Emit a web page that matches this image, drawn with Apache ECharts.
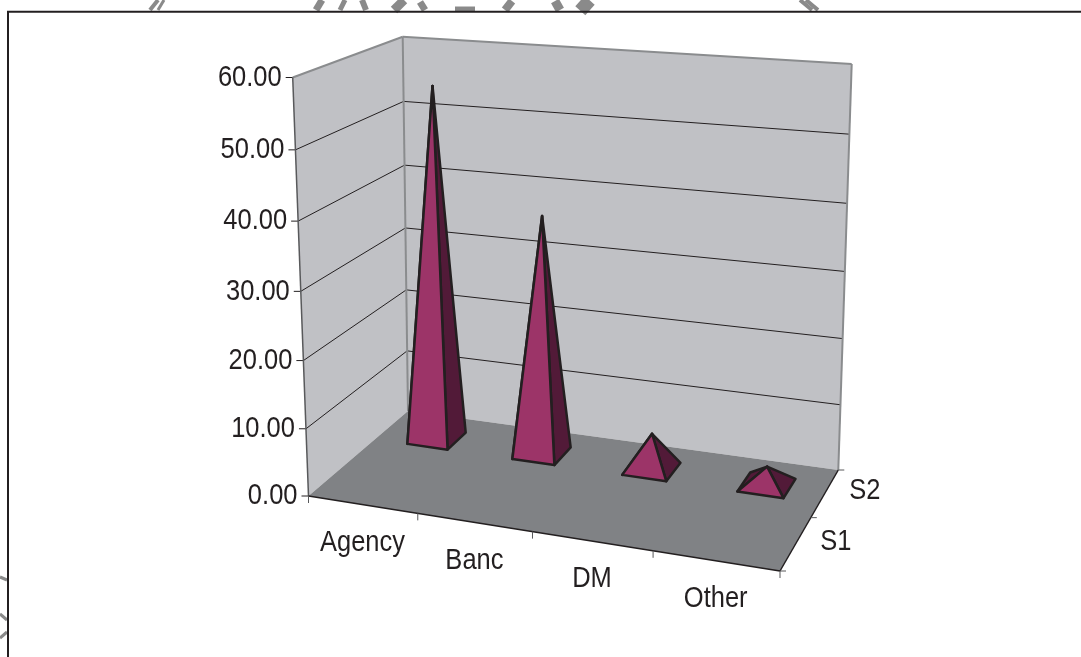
<!DOCTYPE html>
<html>
<head>
<meta charset="utf-8">
<style>html,body{margin:0;background:#fff}#main{width:1081px;height:657px}</style>
<script src="https://cdn.jsdelivr.net/npm/echarts@6/dist/echarts.min.js"></script>
</head>
<body>
<div id="main"></div>
<script>
// chart data
var categories = ['Agency', 'Banc', 'DM', 'Other']
var depths = ['S1', 'S2']
var values = [54.6, 36.5, 5.4, 2.8]
var yTicks = [0, 10, 20, 30, 40, 50, 60]

var INK = '#231f20'

// box corners in screen px: front-left, front-right, back-right, back-left
var FLOOR = [[308.5, 496], [780, 571], [838.3, 470], [408, 411]]
var ROOF = [[292.7, 77.5], [796, 113], [851.7, 64], [402.7, 36.7]]
var HEIGHT_K = 1.045 // perspective of the vertical scale

// unit square -> quad
function quadMap (q) {
    var dx1 = q[1][0] - q[2][0], dx2 = q[3][0] - q[2][0], sx = q[0][0] - q[1][0] + q[2][0] - q[3][0]
    var dy1 = q[1][1] - q[2][1], dy2 = q[3][1] - q[2][1], sy = q[0][1] - q[1][1] + q[2][1] - q[3][1]
    var det = dx1 * dy2 - dx2 * dy1
    var g = (sx * dy2 - dx2 * sy) / det
    var h = (dx1 * sy - sx * dy1) / det
    return function (u, d) {
        var w = g * u + h * d + 1
        return [
            ((q[1][0] - q[0][0] + g * q[1][0]) * u + (q[3][0] - q[0][0] + h * q[3][0]) * d + q[0][0]) / w,
            ((q[1][1] - q[0][1] + g * q[1][1]) * u + (q[3][1] - q[0][1] + h * q[3][1]) * d + q[0][1]) / w
        ]
    }
}
var floorMap = quadMap(FLOOR)
var roofMap = quadMap(ROOF)

function project (u, d, v) {
    var f = v / (v + HEIGHT_K * (1 - v))
    var p = floorMap(u, d), q = roofMap(u, d)
    return [p[0] + (q[0] - p[0]) * f, p[1] + (q[1] - p[1]) * f]
}

function line (a, b, color, width) {
    return {
        type: 'line',
        shape: {x1: a[0], y1: a[1], x2: b[0], y2: b[1]},
        style: {stroke: color, lineWidth: width}
    }
}
function poly (pts, fill, stroke, width) {
    return {
        type: 'polygon',
        shape: {points: pts},
        style: {fill: fill, stroke: stroke, lineWidth: width || 0, lineJoin: 'round'}
    }
}
function label (txt, x, y, align) {
    return {
        type: 'text',
        x: x,
        y: y,
        scaleX: 0.85,
        style: {
            text: txt,
            fill: INK,
            font: '30px "Liberation Sans"',
            align: align,
            verticalAlign: 'middle'
        }
    }
}

// unit position of a value on the hidden axes
function unit (api, sys, cat, val) {
    var p = api.coord([cat, val])
    return [(p[0] - sys.x) / sys.width, (sys.y + sys.height - p[1]) / sys.height]
}

function renderBox (params, api) {
    var sys = params.coordSys
    var els = []
    var a = project(0, 0, 1), b = project(0, 1, 1), c = project(1, 1, 1)
    var a0 = project(0, 0, 0), b0 = project(0, 1, 0), c0 = project(1, 1, 0), d0 = project(1, 0, 0)

    // walls and floor
    els.push(poly([a0, b0, b, a], '#c0c1c5'))
    els.push(poly([b0, c0, c, b], '#c0c1c5'))
    els.push(poly([a0, d0, c0, b0], '#808285'))

    // gridlines
    yTicks.forEach(function (t) {
        var v = unit(api, sys, 0, t)[1]
        var p = project(0, 0, v), q = project(0, 1, v), r = project(1, 1, v)
        if (t > 0 && t < 60) {
            els.push(line(p, q, INK, 1))
            els.push(line(q, r, INK, 1))
        }
        els.push(line([p[0] - 7, p[1]], p, INK, 1))
        els.push(label(t.toFixed(2), p[0] - 11, p[1], 'right'))
    })

    // box outline
    els.push(line(a, b, '#8a8c8e', 2))
    els.push(line(b, c, '#8a8c8e', 2))
    els.push(line(c, c0, '#8a8c8e', 2))
    els.push(line(b, b0, '#8a8c8e', 2))
    els.push(line(a, a0, '#58595b', 1.5))
    els.push(line(a0, d0, INK, 1.5))
    els.push(line(d0, c0, INK, 1.5))

    // category ticks and labels
    categories.forEach(function (name, i) {
        var u = unit(api, sys, i, 0)[0]
        var p = project(u, 0, 0)
        els.push(label(name, p[0], p[1] + 38, 'center'))
    })
    for (var i = 0; i <= categories.length; i++) {
        var tick = project(i / categories.length, 0, 0)
        els.push(line(tick, [tick[0], tick[1] + 7], '#58595b', 1))
    }

    // depth ticks and labels
    depths.forEach(function (name, j) {
        var p = project(1, (j + 0.5) / depths.length, 0)
        els.push(label(name, p[0] + 40, p[1] - 2, 'center'))
    })
    for (var j = 0; j <= depths.length; j++) {
        var dt = project(1, j / depths.length, 0)
        els.push(line(dt, [dt[0] + 6, dt[1]], '#58595b', 1))
    }
    return {type: 'group', children: els}
}

var BASE_HALF_U = 0.0485
var BASE_SHIFT_U = 0.003
var BASE_D0 = 0.645
var BASE_D1 = 0.85

function renderPyramid (params, api) {
    var sys = params.coordSys
    var top = unit(api, sys, api.value(0), api.value(1))
    var u = top[0] + BASE_SHIFT_U
    var fl = project(u - BASE_HALF_U, BASE_D0, 0)
    var fr = project(u + BASE_HALF_U, BASE_D0, 0)
    var br = project(u + BASE_HALF_U, BASE_D1, 0)
    var bl = project(u - BASE_HALF_U, BASE_D1, 0)
    var apex = project(u, (BASE_D0 + BASE_D1) / 2, top[1])
    return {
        type: 'group',
        children: [
            poly([bl, fl, apex], '#521a38', INK, 2.5),
            poly([br, fr, apex], '#521a38', INK, 2.5),
            poly([fl, fr, apex], '#9c3468', INK, 2.5)
        ]
    }
}

// scraps of the scan's watermark above and left of the frame
var scraps = [
    [158, 0, 150, 10, 4], [164, 0, 158, 10, 3],
    [322, 0, 316, 10, 7], [345, 0, 340, 10, 5], [362, 0, 366, 10, 6], [404, 0, 394, 10, 9], [420, 2, 425, 10, 7],
    [455, 9, 475, 9, 5], [512, 1, 505, 10, 8], [555, 1, 560, 10, 9], [580, 1, 590, 10, 14],
    [800, 0, 812, 10, 4], [806, 0, 818, 10, 4],
    [0, 577, 7, 580, 3], [0, 614, 7, 620, 3], [7, 632, 0, 638, 3]
]

var chart = echarts.init(document.getElementById('main'))
chart.setOption({
    animation: false,
    backgroundColor: '#fff',
    grid: {left: 0, right: 0, top: 0, bottom: 0},
    xAxis: {type: 'category', data: categories, show: false},
    yAxis: {type: 'value', min: 0, max: 60, show: false},
    graphic: scraps.map(function (s) {
        return {type: 'line', shape: {x1: s[0], y1: s[1], x2: s[2], y2: s[3]}, style: {stroke: '#8a8a8a', lineWidth: s[4]}}
    }).concat([
        {type: 'line', shape: {x1: 7, y1: 11.7, x2: 1081, y2: 11.7}, style: {stroke: INK, lineWidth: 2}},
        {type: 'line', shape: {x1: 8, y1: 11, x2: 8, y2: 657}, style: {stroke: INK, lineWidth: 2}}
    ]),
    series: [{
        type: 'custom',
        silent: true,
        clip: false,
        z: 1,
        renderItem: renderBox,
        data: [[0, 0]]
    }, {
        type: 'custom',
        silent: true,
        clip: false,
        z: 2,
        renderItem: renderPyramid,
        data: values.map(function (v, i) { return [i, v] })
    }]
})
</script>
</body>
</html>
